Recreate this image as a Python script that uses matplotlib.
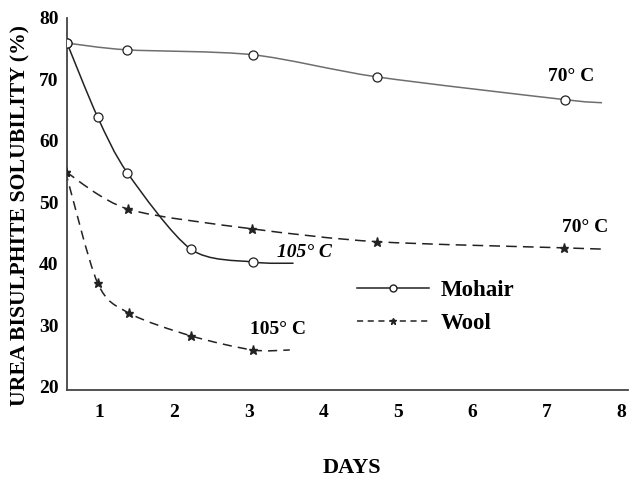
"""Urea bisulphite solubility of mohair and wool vs. days of treatment."""

import matplotlib.pyplot as plt
from matplotlib.path import Path
from matplotlib.patches import PathPatch
from matplotlib.lines import Line2D

plt.rcParams["font.family"] = ["Liberation Serif", "DejaVu Serif"]
plt.rcParams["font.weight"] = "bold"

# measured points (days, solubility %)
mohair_70_days = [0.56, 1.36, 3.05, 4.72, 7.24]
mohair_70_vals = [75.9, 74.8, 74.0, 70.4, 66.7]
mohair_70_end = (7.74, 66.2)

mohair_105_days = [0.56, 0.97, 1.37, 2.22, 3.05]
mohair_105_vals = [75.9, 63.9, 54.8, 42.4, 40.3]
mohair_105_end = (3.6, 40.1)

wool_70_days = [0.54, 1.38, 3.04, 4.72, 7.23]
wool_70_vals = [55.0, 48.9, 45.7, 43.6, 42.6]
wool_70_end = (7.74, 42.4)

wool_105_days = [0.54, 0.97, 1.39, 2.22, 3.05]
wool_105_vals = [55.0, 36.9, 32.0, 28.3, 26.0]
wool_105_end = (3.55, 26.0)

x_ticks = [1, 2, 3, 4, 5, 6, 7, 8]
y_ticks = [20, 30, 40, 50, 60, 70, 80]


def smooth_path(xs, ys, end, k=7.0):
    """Bezier path through the points (Catmull-Rom tangents), ending at `end`."""
    pts = list(zip(xs, ys)) + [end]
    verts = [pts[0]]
    codes = [Path.MOVETO]
    n = len(pts)
    for i in range(n - 1):
        p0 = pts[i - 1] if i > 0 else pts[i]
        p1, p2 = pts[i], pts[i + 1]
        p3 = pts[i + 2] if i + 2 < n else p2
        c1 = (p1[0] + (p2[0] - p0[0]) / k, p1[1] + (p2[1] - p0[1]) / k)
        c2 = (p2[0] - (p3[0] - p1[0]) / k, p2[1] - (p3[1] - p1[1]) / k)
        verts += [c1, c2, p2]
        codes += [Path.CURVE4] * 3
    return Path(verts, codes)


fig = plt.figure(figsize=(6.3, 4.82), dpi=100)
ax = fig.add_axes([0.106, 0.191, 0.891, 0.772])

series = [
    (mohair_70_days, mohair_70_vals, mohair_70_end, "#6e6e6e", "-", "o"),
    (mohair_105_days, mohair_105_vals, mohair_105_end, "#222222", "-", "o"),
    (wool_70_days, wool_70_vals, wool_70_end, "#222222", (0, (7, 4)), "*"),
    (wool_105_days, wool_105_vals, wool_105_end, "#222222", (0, (6, 4)), "*"),
]
for xs, ys, end, col, ls, mk in series:
    ax.add_patch(PathPatch(smooth_path(xs, ys, end), fill=False,
                           edgecolor=col, linewidth=1.1, linestyle=ls, zorder=2))
    if mk == "o":
        ax.plot(xs, ys, "o", ms=6.5, mfc="white", mec="#222222", mew=0.9, zorder=3)
    else:
        ax.plot(xs, ys, "*", ms=6.5, color="#222222", zorder=3)

ax.text(7.01, 70.4, "70° C", fontsize=14, ha="left", va="center")
ax.text(7.2, 45.85, "70° C", fontsize=14, ha="left", va="center")
ax.text(3.38, 41.8, "105° C", fontsize=14, ha="left", va="center", style="italic")
ax.text(3.01, 29.3, "105° C", fontsize=14, ha="left", va="center")

handles = [
    Line2D([], [], color="#222222", lw=1.1, marker="o", ms=5, mfc="white", mec="#222222"),
    Line2D([], [], color="#222222", lw=1.1, ls=(0, (4, 3)), marker="*", ms=5),
]
ax.legend(handles, ["Mohair", "Wool"], frameon=False, fontsize=16.5,
          handlelength=3.15, numpoints=1, labelspacing=0.52, handletextpad=0.52,
          loc="upper left", bbox_to_anchor=(0.48, 0.352))

ax.set_xlim(0.557, 8.09)
ax.set_ylim(19.5, 80)
ax.set_xticks(x_ticks)
ax.set_yticks(y_ticks)
ax.tick_params(length=0, labelsize=14, pad=10)
ax.tick_params(axis="y", pad=6)
for s in ["top", "right"]:
    ax.spines[s].set_visible(False)
for s in ["left", "bottom"]:
    ax.spines[s].set_color("#444444")
    ax.spines[s].set_linewidth(1.3)

ax.set_ylabel("UREA BISULPHITE SOLUBILITY (%)", fontsize=15.7, fontweight="bold")
ax.yaxis.set_label_coords(-0.064, 0.47)
fig.text(0.558, 0.03, "DAYS", fontsize=16, fontweight="bold", ha="center", va="center")

fig.savefig("out.png", dpi=100)
